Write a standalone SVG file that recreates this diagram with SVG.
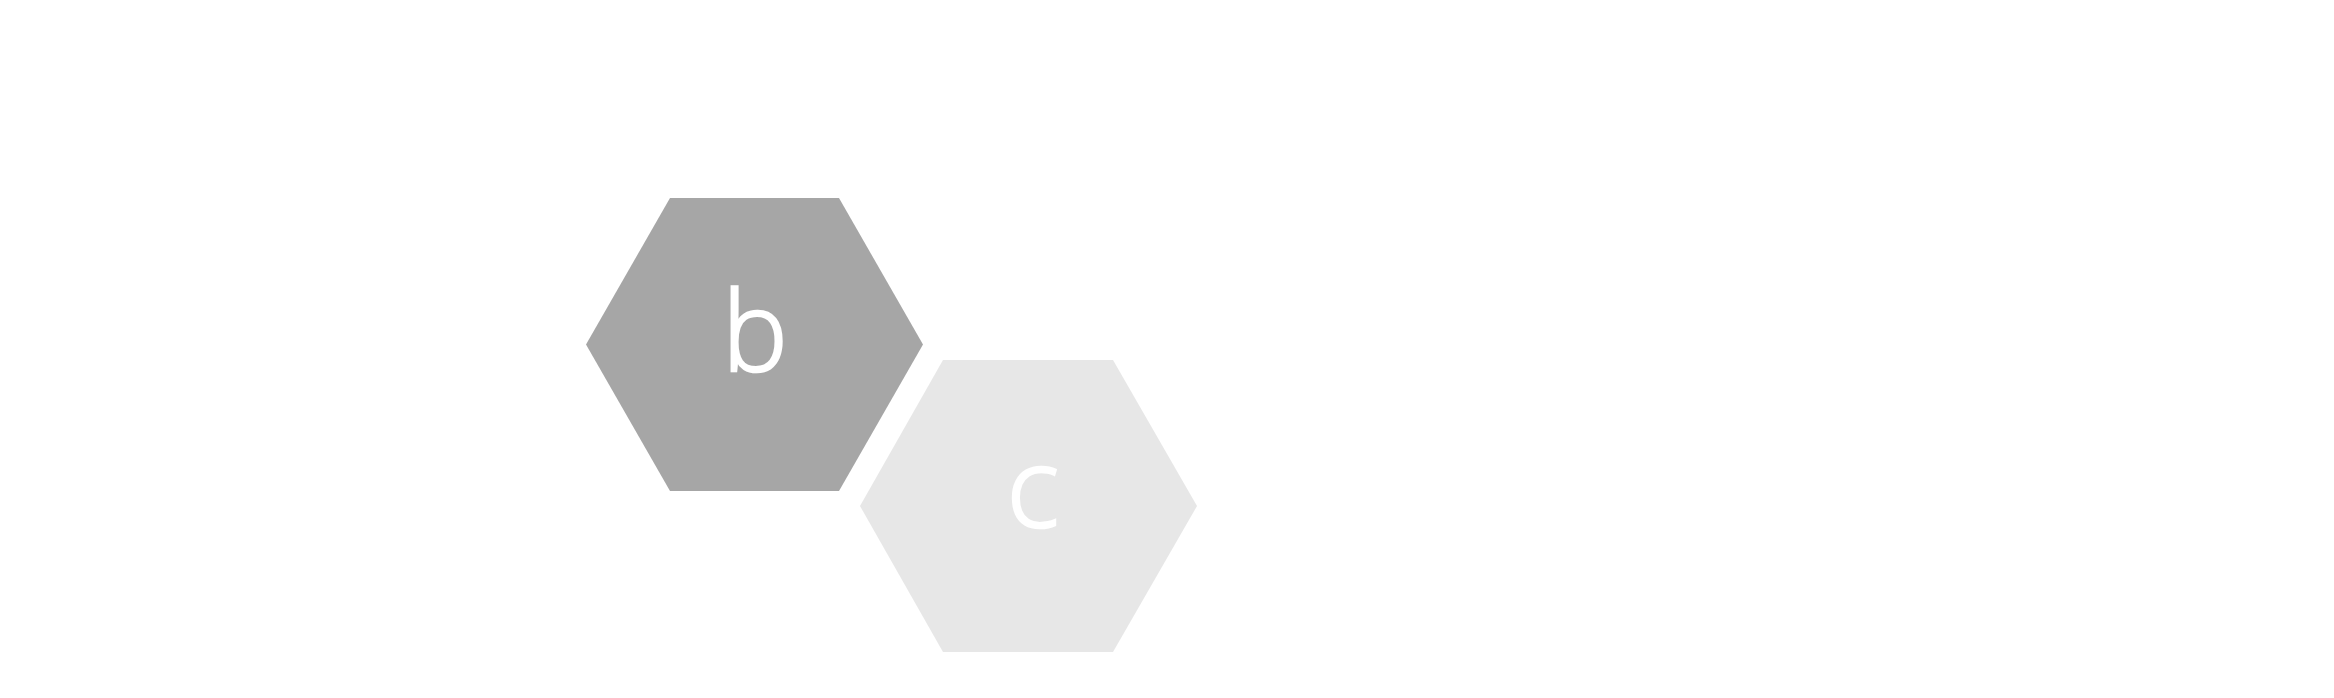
<svg xmlns="http://www.w3.org/2000/svg" width="2334" height="698" viewBox="0 0 2334 698">
<style>
.lbl{font-family:"Open Sans","Lato","DejaVu Sans",sans-serif;font-weight:300;font-size:110px;fill:#ffffff;stroke:#ffffff;stroke-width:2.5px;text-anchor:middle}
</style>
<rect width="2334" height="698" fill="#ffffff"/>
<g id="node-b">
<polygon points="586,344.5 670,198 839,198 923,344.5 839,491 670,491" fill="#a6a6a6"/>
<text class="lbl" x="755" y="371">b</text>
</g>
<g id="node-c">
<polygon points="860,506 943,360 1113,360 1197,506 1113,652 943,652" fill="#e7e7e7"/>
<text class="lbl" x="1033" y="527">c</text>
</g>
<g id="connectors"></g>
</svg>
